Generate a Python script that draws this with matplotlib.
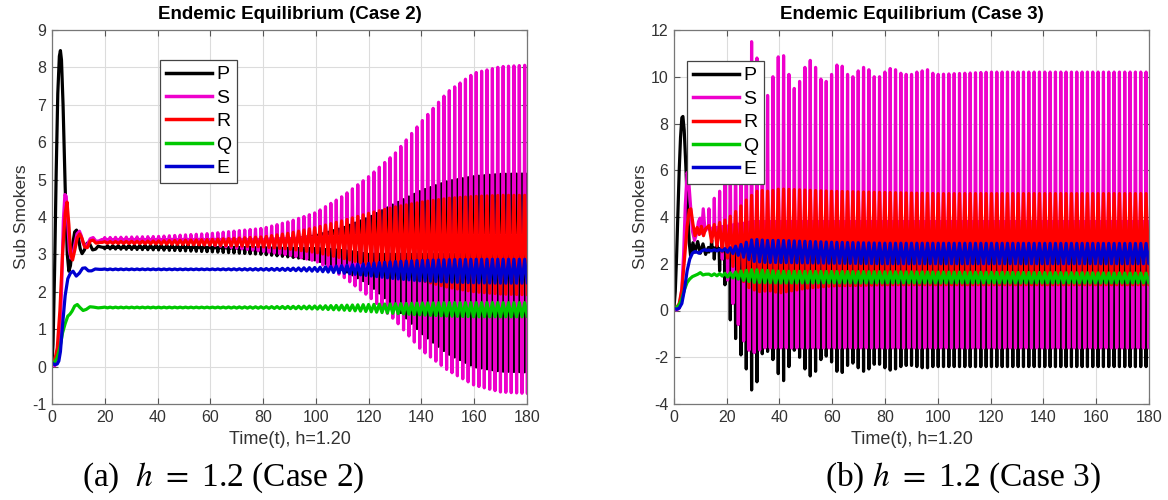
import matplotlib
matplotlib.use("Agg")
import matplotlib.pyplot as plt
import numpy as np

plt.rcParams["font.family"] = ["Liberation Sans", "DejaVu Sans"]
plt.rcParams["mathtext.fontset"] = "stix"
plt.rcParams["axes.unicode_minus"] = False

# -------------------------
# Data
# -------------------------
names = ["P", "S", "R", "Q", "E"]
colors = {"P": "#000000", "S": "#ee00cc", "R": "#ff0000", "Q": "#00c800", "E": "#0000d0"}

# ---- Case 2 : start-up part (t, value) ----
P2_tr_t = [0, 0.4, 1, 1.6, 2.2, 2.8, 3.2, 3.6, 4.2, 5, 5.8, 6.4, 7, 7.8, 8.6, 9.3, 10, 10.7, 11.4, 12.3, 13.3, 14.3, 15.4, 16.5, 17.5, 18.5, 19.2]
P2_tr_y = [0.1, 0.6, 2.6, 5.2, 7.3, 8.3, 8.45, 8.2, 7.0, 4.8, 3.0, 2.55, 2.7, 3.25, 3.6, 3.65, 3.45, 3.15, 3.02, 3.12, 3.3, 3.28, 3.12, 3.14, 3.22, 3.2, 3.19]
S2_tr_t = [0, 1, 2, 3, 3.7, 4.3, 4.9, 5.4, 6, 6.6, 7.2, 7.8, 8.6, 9.5, 10.4, 11.1, 11.8, 12.6, 13.5, 14.5, 15.6, 16.7, 17.8, 19]
S2_tr_y = [0.1, 0.02, 0.1, 0.8, 2.2, 3.9, 4.6, 4.55, 3.8, 3.1, 2.9, 2.95, 3.25, 3.55, 3.62, 3.5, 3.3, 3.2, 3.28, 3.42, 3.45, 3.35, 3.36, 3.4]
R2_tr_t = [0, 1, 2, 3, 4, 5, 5.7, 6.4, 7.1, 7.8, 8.6, 9.6, 10.5, 11.4, 12.4, 13.4, 14.5, 15.6, 16.7, 18, 19]
R2_tr_y = [0.1, 0.15, 0.5, 1.5, 3.0, 4.1, 4.4, 3.8, 3.0, 2.85, 3.1, 3.45, 3.55, 3.42, 3.2, 3.18, 3.36, 3.38, 3.3, 3.32, 3.32]
Q2_tr_t = [0, 1, 2, 3, 4, 5, 6, 6.8, 7.6, 8.6, 9.6, 10.6, 11.8, 13, 14.4, 15.8, 17.5, 19]
Q2_tr_y = [0.1, 0.12, 0.25, 0.5, 0.9, 1.15, 1.35, 1.4, 1.48, 1.62, 1.66, 1.58, 1.5, 1.53, 1.6, 1.59, 1.57, 1.58]
E2_tr_t = [0, 1, 2, 2.6, 3.2, 4, 5, 6, 7, 8, 9.2, 10.4, 11.6, 12.6, 13.8, 15, 16.4, 18, 19]
E2_tr_y = [0.1, 0.05, 0.07, 0.15, 0.4, 1.1, 1.9, 2.35, 2.5, 2.55, 2.42, 2.5, 2.63, 2.64, 2.56, 2.56, 2.61, 2.6, 2.6]

# ---- Case 2 : envelope of the sustained oscillation ----
env2_t = [20, 40, 60, 80, 90, 100, 110, 120, 130, 140, 150, 160, 170, 180]
S2_hi = [3.45, 3.48, 3.56, 3.7, 3.88, 4.12, 4.55, 5.08, 5.7, 6.55, 7.35, 7.85, 8.02, 8.06]
S2_lo = [3.35, 3.32, 3.25, 3.08, 2.98, 2.82, 2.42, 1.88, 1.24, 0.44, -0.1, -0.5, -0.68, -0.72]
P2_hi = [3.23, 3.25, 3.28, 3.33, 3.4, 3.5, 3.7, 3.98, 4.35, 4.7, 4.95, 5.08, 5.14, 5.15]
P2_lo = [3.15, 3.12, 3.07, 3.0, 2.93, 2.85, 2.6, 2.22, 1.6, 0.9, 0.35, 0.0, -0.12, -0.14]
R2_hi = [3.34, 3.36, 3.4, 3.47, 3.57, 3.72, 3.9, 4.1, 4.27, 4.4, 4.5, 4.55, 4.58, 4.58]
R2_lo = [3.3, 3.28, 3.25, 3.2, 3.14, 3.05, 2.9, 2.72, 2.5, 2.3, 2.12, 2.0, 1.94, 1.92]
E2_hi = [2.61, 2.61, 2.61, 2.62, 2.63, 2.65, 2.7, 2.76, 2.81, 2.84, 2.86, 2.87, 2.87, 2.87]
E2_lo = [2.59, 2.59, 2.59, 2.58, 2.57, 2.55, 2.5, 2.43, 2.35, 2.29, 2.26, 2.24, 2.23, 2.23]
Q2_hi = [1.59, 1.59, 1.59, 1.6, 1.61, 1.62, 1.64, 1.66, 1.68, 1.7, 1.71, 1.71, 1.71, 1.71]
Q2_lo = [1.57, 1.57, 1.57, 1.56, 1.55, 1.54, 1.51, 1.47, 1.42, 1.38, 1.35, 1.33, 1.33, 1.33]
S2_mid = [3.4, 3.4, 3.4, 3.4, 3.42, 3.45, 3.48, 3.5, 3.5, 3.5, 3.5, 3.5, 3.5, 3.5]
P2_mid = [3.19, 3.19, 3.18, 3.17, 3.16, 3.15, 3.1, 3.0, 3.0, 3.0, 3.0, 3.0, 3.0, 3.0]

# ---- Case 3 : start-up part ----
P3_tr_t = [0, 0.5, 1, 1.5, 2, 2.5, 3, 3.4, 3.9, 4.5, 5.2, 5.8, 6.3, 7.2, 8, 9, 10, 11, 12]
P3_tr_y = [0.1, 0.8, 2.3, 4.2, 6.0, 7.4, 8.25, 8.3, 7.7, 6.2, 4.2, 2.9, 2.35, 2.9, 2.5, 2.95, 2.45, 2.85, 2.4]
S3_tr_t = [0, 1, 2, 3, 3.7, 4.3, 5, 5.5, 6.2, 7, 7.8, 8.6, 9.3, 9.9, 10.5, 11.1, 11.8, 12.4]
S3_tr_y = [0.1, 0.02, 0.1, 0.9, 2.5, 4.5, 5.9, 5.7, 4.6, 3.4, 3.0, 3.3, 3.8, 3.95, 3.3, 4.35, 3.4, 3.5]
R3_tr_t = [0, 1, 2, 3, 4, 5, 5.8, 6.4, 7.2, 8, 8.8, 9.6, 10.4, 11.2, 12]
R3_tr_y = [0.1, 0.12, 0.3, 0.9, 2.2, 3.6, 4.3, 4.35, 3.7, 3.2, 3.55, 3.25, 3.6, 3.2, 3.5]
Q3_tr_t = [0, 1, 2, 3, 4, 5, 6, 7, 8, 9, 10, 11, 12]
Q3_tr_y = [0.1, 0.12, 0.25, 0.5, 0.9, 1.2, 1.35, 1.45, 1.5, 1.55, 1.62, 1.52, 1.55]
E3_tr_t = [0, 1, 2, 3, 4, 5, 6, 7, 8, 8.6, 9.5, 10.5, 11.5, 12.5]
E3_tr_y = [0.1, 0.05, 0.1, 0.3, 0.9, 1.7, 2.2, 2.45, 2.52, 2.5, 2.45, 2.55, 2.6, 2.57]

# ---- Case 3 : spike heights, one per cycle where they differ ----
S3_hi_t = [13.27, 15.29, 17.31, 19.33, 21.35, 23.37, 25.39, 27.41, 29.43, 31.45, 33.47, 35.49, 37.51, 39.53,
           41.55, 43.57, 45.59, 47.61, 49.63, 51.65, 53.67, 55.69, 57.71, 59.73, 61.75, 63.77, 65.79, 67.81,
           69.83, 71.85, 73.87, 75.89, 77.91, 79.93, 81.95, 83.97, 85.99, 88.01, 90.03, 92.05, 94.07, 96.09,
           98.11, 100.13, 120, 150, 180]
S3_hi = [4.35, 4.8, 5.1, 5.6, 6.3, 7.0, 8.2, 9.6, 11.5, 10.8, 9.2, 9.2, 10.0, 10.85,
         10.9, 10.1, 9.5, 9.8, 10.4, 10.7, 10.4, 9.9, 9.8, 10.1, 10.5, 10.45, 10.1, 10.0,
         10.25, 10.4, 10.3, 10.0, 10.0, 10.2, 10.35, 10.3, 10.15, 10.1, 10.1, 10.2, 10.25, 10.3,
         10.15, 10.1, 10.2, 10.2, 10.2]
P3_lo = [2.5, 2.2, 1.7, 1.1, -0.4, -1.2, -1.9, -2.5, -3.4, -3.05, -1.85, -1.75, -2.1, -2.7,
         -3.0, -2.4, -1.7, -2.0, -2.5, -2.8, -2.6, -2.1, -1.95, -2.2, -2.6, -2.65, -2.35, -2.25,
         -2.45, -2.6, -2.5, -2.3, -2.3, -2.45, -2.55, -2.5, -2.4, -2.35, -2.35, -2.4, -2.45, -2.45,
         -2.4, -2.4, -2.4, -2.4, -2.4]

# ---- Case 3 : envelopes of the other extremes ----
S3_lo_t = [14.28, 16.3, 18.32, 20.34, 22.36, 24.38, 26.4, 28.42, 30.44, 34, 40, 180]
S3_lo = [3.2, 2.8, 2.2, 1.3, 0.3, -0.6, -1.3, -1.7, -1.8, -1.6, -1.6, -1.6]
P3_hi_t = [13, 20, 30, 180]
P3_hi = [3.0, 3.1, 3.2, 3.2]
mid3_t = [13, 20, 30, 180]
S3_mid = [3.5, 3.6, 3.8, 3.8]
P3_mid = [2.7, 2.6, 2.5, 2.5]
R3_t = [12, 16, 20, 24, 28, 32, 36, 40, 50, 60, 80, 100, 180]
R3_hi = [3.6, 3.7, 3.9, 4.3, 4.8, 5.15, 5.1, 5.2, 5.15, 5.1, 5.05, 5.0, 5.0]
R3_lo = [3.1, 2.8, 2.3, 1.6, 1.0, 0.8, 0.85, 0.75, 0.95, 1.05, 1.1, 1.1, 1.1]
E3_t = [12, 18, 22, 26, 30, 35, 40, 60, 80, 180]
E3_hi = [2.58, 2.62, 2.7, 2.85, 3.05, 3.0, 3.0, 2.92, 2.88, 2.87]
E3_lo = [2.55, 2.55, 2.45, 2.3, 2.1, 2.05, 2.05, 2.02, 2.0, 2.0]
Q3_t = [12, 18, 22, 26, 30, 40, 180]
Q3_hi = [1.55, 1.58, 1.62, 1.7, 1.75, 1.68, 1.6]
Q3_lo = [1.5, 1.48, 1.4, 1.3, 1.2, 1.18, 1.18]

# cycle timing
period2, start2 = 2.04, 20.0
period3, start3 = 2.02, 13.27


def build(tr_t, tr_y, start, period, hi, lo, mid=None, lead="hi", w=0.2):
    """Start-up curve followed by one up/down swing per cycle.
    hi, lo, mid are (knot_t, knot_y) pairs read from the picture."""
    ts, ys = list(tr_t), list(tr_y)
    k = 0
    while True:
        t1 = start + k * period
        if t1 > 182:
            break
        t2 = t1 + period / 2
        first, second = (hi, lo) if lead == "hi" else (lo, hi)
        v1 = np.interp(t1, *first)
        v2 = np.interp(t2, *second)
        if mid is None:
            ts += [t1, t2]
            ys += [v1, v2]
        else:
            m1 = np.interp(t1, *mid)
            m2 = np.interp(t2, *mid)
            ts += [t1 - w, t1, t1 + w, t2 - w, t2, t2 + w]
            ys += [m1, v1, m1, m2, v2, m2]
        k += 1
    return ts, ys


case2 = {
    "P": build(P2_tr_t, P2_tr_y, start2, period2, (env2_t, P2_hi), (env2_t, P2_lo), (env2_t, P2_mid), lead="lo"),
    "S": build(S2_tr_t, S2_tr_y, start2, period2, (env2_t, S2_hi), (env2_t, S2_lo), (env2_t, S2_mid)),
    "R": build(R2_tr_t, R2_tr_y, start2, period2, (env2_t, R2_hi), (env2_t, R2_lo)),
    "Q": build(Q2_tr_t, Q2_tr_y, start2, period2, (env2_t, Q2_hi), (env2_t, Q2_lo)),
    "E": build(E2_tr_t, E2_tr_y, start2, period2, (env2_t, E2_hi), (env2_t, E2_lo)),
}
case3 = {
    "P": build(P3_tr_t, P3_tr_y, start3, period3, (P3_hi_t, P3_hi), (S3_hi_t, P3_lo), (mid3_t, P3_mid), lead="lo"),
    "S": build(S3_tr_t, S3_tr_y, start3, period3, (S3_hi_t, S3_hi), (S3_lo_t, S3_lo), (mid3_t, S3_mid)),
    "R": build(R3_tr_t, R3_tr_y, start3, period3, (R3_t, R3_hi), (R3_t, R3_lo)),
    "Q": build(Q3_tr_t, Q3_tr_y, start3, period3, (Q3_t, Q3_hi), (Q3_t, Q3_lo)),
    "E": build(E3_tr_t, E3_tr_y, start3, period3, (E3_t, E3_hi), (E3_t, E3_lo)),
}

# -------------------------
# Plot
# -------------------------
fig = plt.figure(figsize=(11.68, 5.0), dpi=100)
ax1 = fig.add_axes([0.0445, 0.192, 0.4067, 0.748])
ax2 = fig.add_axes([0.577, 0.192, 0.4067, 0.748])

panels = [
    (ax1, case2, "Endemic Equilibrium (Case 2)", (-1, 9), np.arange(-1, 10, 1), (0.227, 0.92)),
    (ax2, case3, "Endemic Equilibrium (Case 3)", (-4, 12), np.arange(-4, 13, 2), (0.027, 0.917)),
]

for ax, series, title, ylim, yticks, leg_pos in panels:
    for name in names:
        t, y = series[name]
        ax.plot(t, y, color=colors[name], lw=2.3, label=name)
    ax.set_xlim(0, 180)
    ax.set_ylim(*ylim)
    ax.set_xticks(np.arange(0, 181, 20))
    ax.set_yticks(yticks)
    ax.grid(True, color="#dcdcdc", lw=0.8)
    ax.set_axisbelow(True)
    ax.tick_params(direction="in", top=True, right=True, labelsize=11.5, length=4,
                   color="#555555", labelcolor="#333333", pad=4)
    for sp in ax.spines.values():
        sp.set_color("#777777")
        sp.set_linewidth(0.9)
    ax.set_title(title, fontsize=13.5, fontweight="bold", pad=8)
    ax.set_xlabel("Time(t), h=1.20", fontsize=13, color="#333333", labelpad=5)
    ax.set_ylabel("Sub Smokers", fontsize=12.5, color="#333333", labelpad=2)
    leg = ax.legend(loc="upper left", bbox_to_anchor=leg_pos, fontsize=14, frameon=True,
                    fancybox=False, framealpha=1, edgecolor="#444444", handlelength=2.4,
                    handletextpad=0.2, labelspacing=0.3, borderpad=0.3, borderaxespad=0)
    leg.get_frame().set_linewidth(0.9)
    for line in leg.get_lines():
        line.set_linewidth(2.5)

fig.text(0.191, 0.044, r"(a)  $h$ $=$ 1.2 (Case 2)", fontsize=24, ha="center", va="center",
         family=["Liberation Serif", "DejaVu Serif"])
fig.text(0.824, 0.044, r"(b) $h$ $=$ 1.2 (Case 3)", fontsize=24, ha="center", va="center",
         family=["Liberation Serif", "DejaVu Serif"])

fig.savefig("out.png", dpi=100)
